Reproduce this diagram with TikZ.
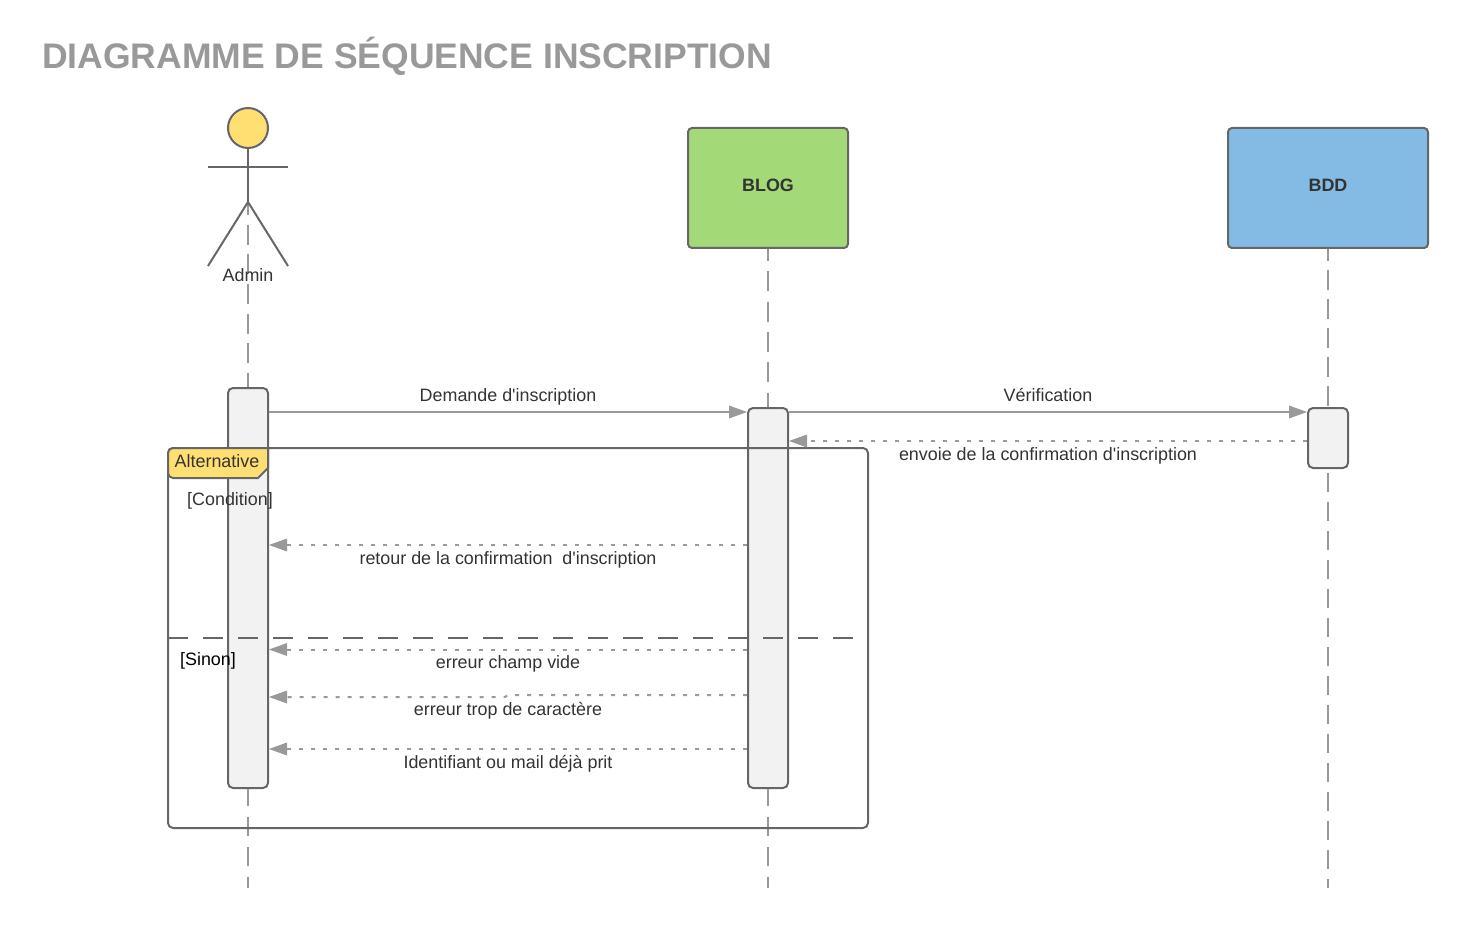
\documentclass[tikz,border=0pt]{standalone}
\usepackage{fontspec}
\newfontfamily\plainsans{Liberation Sans}
\usetikzlibrary{arrows.meta}
\definecolor{ink}{HTML}{333333}
\definecolor{edge}{HTML}{666666}
\definecolor{msg}{HTML}{999999}
\definecolor{actfill}{HTML}{F2F2F2}
\definecolor{sun}{HTML}{FFDF71}
\definecolor{green}{HTML}{A3D977}
\definecolor{blue}{HTML}{83BBE5}
\tikzset{
  lbl/.style={font=\plainsans\fontsize{17.9}{20}\selectfont,text=ink,inner sep=0pt,text height=13pt,text depth=4pt},
  part/.style={draw=edge,line width=2pt,rounded corners=4pt,inner sep=0pt},
  actbox/.style={draw=edge,line width=2pt,rounded corners=5pt,fill=actfill,minimum width=40pt,inner sep=0pt},
  lifeline/.style={draw=msg,line width=2pt},
  limb/.style={draw=edge,line width=2pt},
  call/.style={draw=msg,line width=2pt,-{Triangle[length=18pt,width=13pt,line width=0pt,fill=msg]}},
  reply/.style={draw=msg,line width=2pt,dash pattern=on 4pt off 8pt,-{Triangle[length=18pt,width=13pt,line width=0pt,fill=msg]}},
}
\begin{document}
\begin{tikzpicture}[x=1pt,y=-1pt]
\useasboundingbox (0,0) rectangle (1468,928);
% title
\node[anchor=west,inner sep=0pt,text=msg,font=\plainsans\fontsize{35.5}{40}\selectfont\bfseries] (title) at (42,56.4) {DIAGRAMME DE SÉQUENCE INSCRIPTION};
% participants
\node[part,fill=green,minimum width=160pt,minimum height=120pt] (blog) at (768,188) {};
\node[lbl,font=\plainsans\fontsize{17.9}{20}\selectfont\bfseries] (blogt) at (768,187) {BLOG};
\node[part,fill=blue,minimum width=200pt,minimum height=120pt] (bdd) at (1328,188) {};
\node[lbl,font=\plainsans\fontsize{17.9}{20}\selectfont\bfseries] (bddt) at (1328,187) {BDD};
% activations
\node[actbox,minimum height=400pt] (aA) at (248,588) {};
\node[actbox,minimum height=380pt] (aB) at (768,598) {};
\node[actbox,minimum height=60pt] (aD) at (1328,438) {};
% actor
\coordinate (hip) at (248,202);
\coordinate (armL) at (208,167);
\coordinate (armR) at (288,167);
\coordinate (legL) at (208,266);
\coordinate (legR) at (288,266);
\coordinate (endA) at (248,888);
\coordinate (endB) at (768,888);
\coordinate (endD) at (1328,888);
% lifelines
\draw[lifeline,dash pattern=on 20pt off 9.5pt,dash phase=6.5pt] (hip) -- (aA.north);
\draw[lifeline,dash pattern=on 19pt off 11pt,dash phase=2pt] (aA.south) -- (endA);
\draw[lifeline,dash pattern=on 20pt off 10.3pt,dash phase=8pt] (blog.south) -- (aB.north);
\draw[lifeline,dash pattern=on 19pt off 11pt,dash phase=2pt] (aB.south) -- (endB);
\draw[lifeline,dash pattern=on 20pt off 9pt,dash phase=8pt] (bdd.south) -- (aD.north);
\draw[lifeline,dash pattern=on 19pt off 10pt,dash phase=25pt] (aD.south) -- (endD);
\node[draw=edge,line width=2pt,fill=sun,circle,minimum size=40pt,inner sep=0pt] (head) at (248,128) {};
\draw[limb] (head.south) -- (hip);
\draw[limb] (armL) -- (armR);
\draw[limb,line join=miter] (legL) -- (hip) -- (legR);
\node[lbl] (admin) at (248,277) {Admin};
% alt frame
\coordinate (fTL) at (168,448);
\coordinate (fBR) at (868,828);
\draw[draw=edge,line width=2pt,rounded corners=5pt] (fTL) rectangle (fBR);
\coordinate (tabA) at (168,478);
\coordinate (tabB) at (258,478);
\coordinate (tabC) at (268,468);
\coordinate (tabD) at (268,448);
\filldraw[draw=edge,line width=2pt,fill=sun,line join=miter] (tabA) -- (tabB) -- (tabC) -- (tabD) [rounded corners=5pt] -- (fTL) -- cycle;
\node[lbl] (alt) at (217,463) {Alternative};
\node[lbl] (cond) at (230,501) {[Condition]};
\node[lbl,text=black] (sinon) at (208,661) {[Sinon]};
\coordinate (divL) at (168,638);
\coordinate (divR) at (853,638);
\draw[draw=edge,line width=2pt,dash pattern=on 20pt off 15pt] (divL) -- (divR);
% messages
\coordinate (m1a) at (aA.east |- 0,412);
\coordinate (m1b) at (aB.west |- 0,412);
\draw[call] (m1a) -- (m1b);
\node[lbl] (t1) at (508,397) {Demande d'inscription};
\coordinate (m2a) at (aB.east |- 0,412);
\coordinate (m2b) at (aD.west |- 0,412);
\draw[call] (m2a) -- (m2b);
\node[lbl] (t2) at (1048,397) {Vérification};
\coordinate (m3a) at (aD.west |- 0,441);
\coordinate (m3b) at (aB.east |- 0,441);
\draw[reply] (m3a) -- (m3b);
\node[lbl] (t3) at (1048,456) {envoie de la confirmation d'inscription};
\coordinate (m4a) at (aB.west |- 0,545);
\coordinate (m4b) at (aA.east |- 0,545);
\draw[reply] (m4a) -- (m4b);
\node[lbl] (t4) at (508,560) {retour de la confirmation\ \ d'inscription};
\coordinate (m5a) at (aB.west |- 0,649.5);
\coordinate (m5b) at (aA.east |- 0,649.5);
\draw[reply] (m5a) -- (m5b);
\node[lbl] (t5) at (508,664) {erreur champ vide};
\coordinate (m6a) at (aB.west |- 0,695);
\coordinate (m6m) at (508,695);
\coordinate (m6c) at (505,697);
\coordinate (m6b) at (aA.east |- 0,697);
\draw[reply] (m6a) -- (m6m) -- (m6c) -- (m6b);
\node[lbl] (t6) at (508,711) {erreur trop de caractère};
\coordinate (m7a) at (aB.west |- 0,749);
\coordinate (m7b) at (aA.east |- 0,749);
\draw[reply] (m7a) -- (m7b);
\node[lbl] (t7) at (508,764) {Identifiant ou mail déjà prit};
\end{tikzpicture}
\end{document}
